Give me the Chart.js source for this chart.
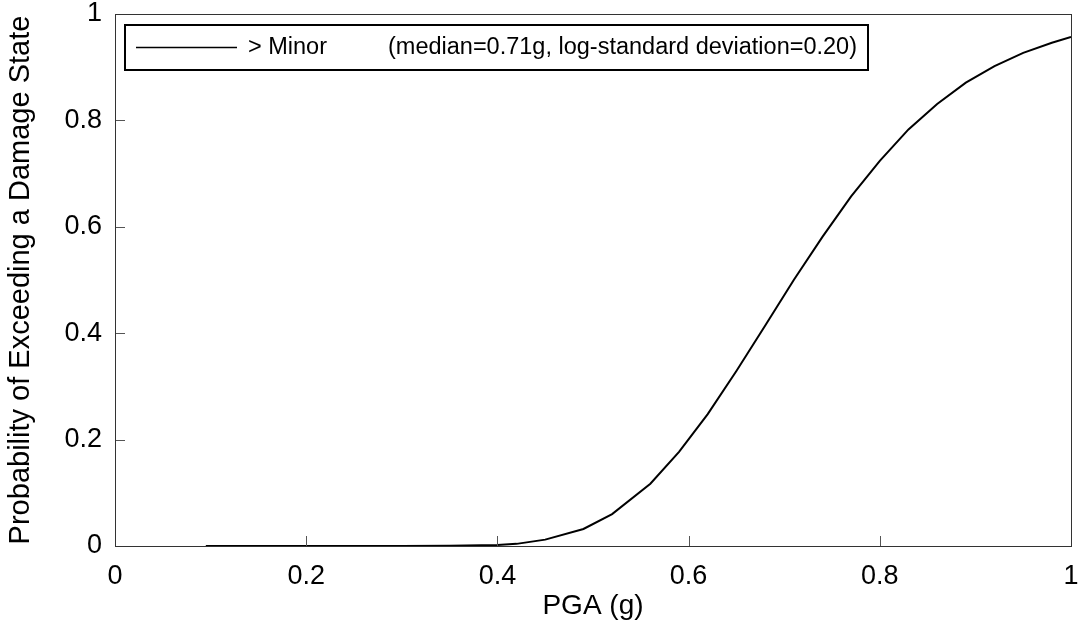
<!DOCTYPE html>
<html>
<head>
<meta charset="utf-8">
<script src="https://cdn.jsdelivr.net/npm/chart.js@4/dist/chart.umd.min.js"></script>
<style>
html,body{margin:0;padding:0;background:#fff;}
#wrap{width:1081px;height:627px;}
</style>
</head>
<body>
<div id="wrap"><canvas id="c" width="1081" height="627"></canvas></div>
<script>
// Data
const pga = [0.095, 0.20, 0.30, 0.35, 0.40, 0.42, 0.45, 0.49, 0.52, 0.56, 0.59, 0.62, 0.65, 0.68, 0.71, 0.74, 0.77, 0.80, 0.83, 0.86, 0.89, 0.92, 0.95, 0.98, 1.00];
const probMinor = [0.000, 0.000, 0.000, 0.0003, 0.002, 0.004, 0.012, 0.032, 0.060, 0.117, 0.177, 0.248, 0.329, 0.414, 0.500, 0.581, 0.657, 0.724, 0.783, 0.831, 0.871, 0.902, 0.927, 0.946, 0.957];
const seriesName = '> Minor';
const seriesNote = '(median=0.71g, log-standard deviation=0.20)';
const xTicks = [0, 0.2, 0.4, 0.6, 0.8, 1];
const yTicks = [0, 0.2, 0.4, 0.6, 0.8, 1];
const xTitle = 'PGA (g)';
const yTitle = 'Probability of Exceeding a Damage State';

const FONT = "'Liberation Sans', Arial, sans-serif";

const framePlugin = {
  id: 'frame',
  afterDatasetsDraw(chart) {
    const {ctx, chartArea: a, scales} = chart;
    ctx.save();
    // inward tick marks
    ctx.strokeStyle = '#555';
    ctx.lineWidth = 1;
    ctx.beginPath();
    xTicks.forEach(v => {
      const px = Math.round(scales.x.getPixelForValue(v)) + 0.5;
      ctx.moveTo(px, a.bottom); ctx.lineTo(px, a.bottom - 10);
    });
    yTicks.forEach(v => {
      const py = Math.round(scales.y.getPixelForValue(v)) + 0.5;
      ctx.moveTo(a.left, py); ctx.lineTo(a.left + 10, py);
    });
    ctx.stroke();
    // frame
    ctx.strokeStyle = '#333';
    ctx.lineWidth = 1;
    ctx.strokeRect(Math.round(a.left) + 0.5, Math.round(a.top) + 0.5, Math.round(a.right - a.left), Math.round(a.bottom - a.top));
    // legend box inside plot
    const bx = Math.round(a.left) + 10, by = Math.round(a.top) + 11, bw = 743, bh = 45;
    ctx.fillStyle = '#fff';
    ctx.fillRect(bx, by, bw, bh);
    ctx.strokeStyle = '#000';
    ctx.lineWidth = 2;
    ctx.strokeRect(bx, by, bw, bh);
    const ly = by + bh / 2;
    ctx.lineWidth = 1.5;
    ctx.beginPath();
    ctx.moveTo(bx + 11, ly); ctx.lineTo(bx + 112, ly);
    ctx.stroke();
    ctx.fillStyle = '#000';
    ctx.font = '23.5px ' + FONT;
    ctx.textBaseline = 'middle';
    ctx.textAlign = 'left';
    ctx.fillText(chart.data.datasets[0].label, bx + 123, ly);
    ctx.fillText(seriesNote, bx + 263, ly);
    ctx.restore();
  }
};

new Chart(document.getElementById('c'), {
  type: 'line',
  data: {
    datasets: [{
      label: seriesName,
      data: pga.map((x, i) => ({x, y: probMinor[i]})),
      borderColor: '#000',
      borderWidth: 2,
      pointRadius: 0,
      tension: 0,
      fill: false
    }]
  },
  options: {
    responsive: false,
    animation: false,
    devicePixelRatio: 1,
    layout: {padding: {top: 14, right: 10, left: 0, bottom: 0}},
    plugins: {legend: {display: false}, tooltip: {enabled: false}},
    scales: {
      x: {
        type: 'linear', min: 0, max: 1,
        afterBuildTicks: s => { s.ticks = xTicks.map(v => ({value: v})); },
        afterFit: s => { s.height = 81; s.paddingLeft = 0; s.paddingRight = 0; },
        grid: {display: false, drawTicks: false},
        border: {display: false},
        ticks: {color: '#000', font: {family: FONT, size: 27}, padding: 14, maxRotation: 0, callback: v => String(v)},
        title: {display: true, text: xTitle, color: '#000', font: {family: FONT, size: 28}, padding: {top: 0, bottom: 4}}
      },
      y: {
        type: 'linear', min: 0, max: 1,
        afterBuildTicks: s => { s.ticks = yTicks.map(v => ({value: v})); },
        afterFit: s => { s.width = 115; s.paddingTop = 0; s.paddingBottom = 0; },
        grid: {display: false, drawTicks: false},
        border: {display: false},
        ticks: {color: '#000', font: {family: FONT, size: 27}, padding: 13, callback: v => String(v)},
        title: {display: true, text: yTitle, color: '#000', font: {family: FONT, size: 29}, padding: {top: 4, bottom: 0}}
      }
    }
  },
  plugins: [framePlugin]
});
</script>
</body>
</html>
